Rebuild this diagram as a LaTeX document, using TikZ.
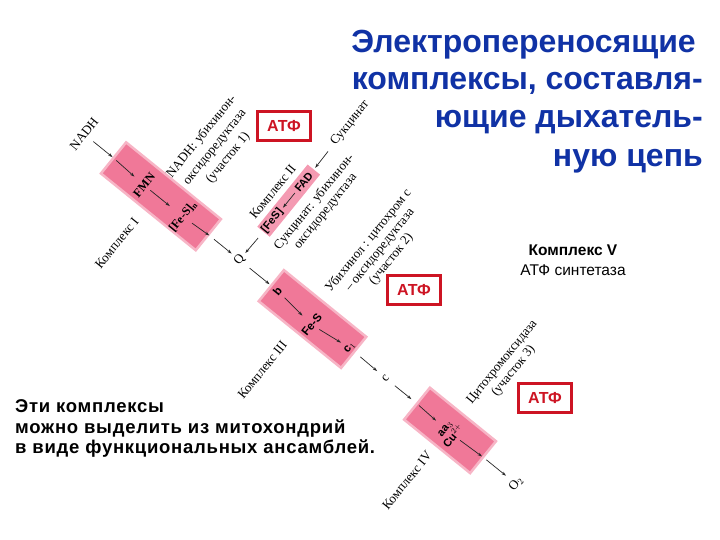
\documentclass[tikz,border=0pt]{standalone}
\usepackage{fontspec}
\setmainfont{Liberation Serif}
\setsansfont{Liberation Sans}
\newfontfamily\notefont[LetterSpace=4]{Liberation Sans}
\usetikzlibrary{arrows.meta}
\definecolor{boxpink}{RGB}{240,120,152}
\definecolor{titleblue}{RGB}{16,50,165}
\definecolor{atfred}{RGB}{205,20,35}
\begin{document}
\begin{tikzpicture}[x=1pt,y=-1pt,
  arr/.style={-{Stealth[length=4.5pt,width=3pt]}, line width=0.7pt, black!85},
  cplx/.style={rectangle, fill=boxpink, draw=boxpink!55, line width=2.5pt, rotate=-39, inner sep=0},
  lbl/.style={font=\fontsize{13}{14.5}\selectfont, rotate=51, align=center, inner sep=1pt},
  inb/.style={font=\bfseries\fontsize{12}{12}\selectfont, rotate=51, inner sep=1pt},
  ins/.style={font=\sffamily\bfseries\fontsize{11.5}{11.5}\selectfont, rotate=51, inner sep=1pt, align=center},
  atf/.style={draw=atfred, line width=2.6pt, fill=white, text=atfred, font=\sffamily\bfseries\fontsize{16}{16}\selectfont, minimum width=53, minimum height=29, inner sep=0},
  ttl/.style={font=\sffamily\bfseries\fontsize{32}{38}\selectfont, text=titleblue, inner sep=0, anchor=base east},
  note/.style={font=\notefont\bfseries\fontsize{18.5}{20}\selectfont, inner sep=0, anchor=base west},
]
\useasboundingbox (0,0) rectangle (720,540);

\begin{scope}[shift={(84,134)}, rotate=-39]
  % main chain
  \node[lbl] (nadh) at (0,0) {NADH};
  \node[cplx, minimum width=122, minimum height=40] (box1) at (99,0) {};
  \node[inb] (fmn) at (79,2) {FMN};
  \node[inb] (fes1) at (129,2) {[Fe-S]$_{\mathbf{n}}$};
  \node[lbl] (q) at (200,0) {Q};
  \node[cplx, minimum width=106, minimum height=40] (box3) at (294,0) {};
  \node[ins] (b) at (249,0) {b};
  \node[ins] (fes3) at (297,5) {Fe-S};
  \node[ins] (c1) at (341,-1) {c$_1$};
  \node[lbl] (cc) at (388,0) {c};
  \node[cplx, minimum width=85, minimum height=41] (box4) at (471,0) {};
  \node[ins, font=\sffamily\bfseries\fontsize{11}{10}\selectfont] (cuaa) at (472,2) {aa$_3$\\Cu$^{2+}$};
  \node[lbl] (o2) at (556,0) {O$_2$};

  % complex II branch
  \node[rectangle, fill=boxpink!75, rotate=51, minimum width=80, minimum height=16, inner sep=0] (box2) at (201,-77) {};
  \node[ins, font=\sffamily\bfseries\fontsize{11}{11}\selectfont] (fad) at (201,-101) {FAD};
  \node[ins, font=\sffamily\bfseries\fontsize{11}{11}\selectfont] (fes2) at (201,-51) {[FeS]};
  \node[lbl] (succ) at (200,-176) {Сукцинат};

  % labels
  \node[lbl, font=\fontsize{13}{17}\selectfont] at (110,-72) {NADH: убихинон-\\оксидоредуктаза\\(участок 1)};
  \node[lbl] at (94,64) {Комплекс I};
  \node[lbl] at (183,-74) {Комплекс II};
  \node[lbl] at (229,-92) {Сукцинат: убихинон-\\оксидоредуктаза};
  \node[lbl] at (303,-96) {Убихинол : цитохром с\\– оксидоредуктаза\\(участок 2)};
  \node[lbl] at (287,71) {Комплекс III};
  \node[lbl] at (469,66) {Комплекс IV};
  \node[lbl] at (476,-86) {Цитохромоксидаза\\(участок 3)};

  % arrows
  \draw[arr, shorten <=12] (nadh.center) -- (box1.west);
  \draw[arr, shorten <=5, shorten >=13] (box1.west) -- (fmn.center);
  \draw[arr, shorten <=8, shorten >=17] (fmn.center) -- (fes1.center);
  \draw[arr, shorten <=11] (fes1.center) -- (box1.east);
  \draw[arr, shorten <=6, shorten >=10] (box1.east) -- (q.center);
  \draw[arr, shorten <=13, shorten >=1] (q.center) -- (box3.west);
  \draw[arr, shorten <=10, shorten >=13] (b.center) -- (fes3.center);
  \draw[arr, shorten <=9, shorten >=10] (fes3.center) -- (c1.center);
  \draw[arr, shorten <=14, shorten >=11] (c1.center) -- (cc.center);
  \draw[arr, shorten <=12, shorten >=6] (cc.center) -- (box4.west);
  \draw[arr, shorten <=4, shorten >=18] (box4.west) -- (cuaa.center);
  \draw[arr, shorten <=13, shorten >=2.5] (cuaa.center) -- (box4.east);
  \draw[arr, shorten <=3, shorten >=13] (box4.east) -- (o2.center);
  \draw[arr, shorten <=36, shorten >=2] (succ.center) -- (box2.east);
  \draw[arr, shorten <=2, shorten >=2] (fad) -- (fes2);
  \draw[arr, shorten <=8, shorten >=9] (box2.west) -- (q.center);
\end{scope}

% ATP boxes
\node[atf] (atf1) at (284,126) {АТФ};
\node[atf] (atf2) at (414,290) {АТФ};
\node[atf] (atf3) at (545,398) {АТФ};

% title
\node[ttl] (t1) at (696,53) {Электропереносящие};
\node[ttl] (t2) at (703,90) {комплексы, составля-};
\node[ttl] (t3) at (703,128) {ющие дыхатель-};
\node[ttl] (t4) at (703,167) {ную цепь};

% complex V
\node[font=\sffamily\bfseries\fontsize{15.5}{16}\selectfont, anchor=base, inner sep=0] (c5) at (573,255) {Комплекс V};
\node[font=\sffamily\fontsize{15.5}{16}\selectfont, anchor=base, inner sep=0] (c5b) at (573,275) {АТФ синтетаза};

% note
\node[note] (n1) at (15,412) {Эти комплексы};
\node[note] (n2) at (15,433) {можно выделить из митохондрий};
\node[note] (n3) at (15,453) {в виде функциональных ансамблей.};
\end{tikzpicture}
\end{document}
